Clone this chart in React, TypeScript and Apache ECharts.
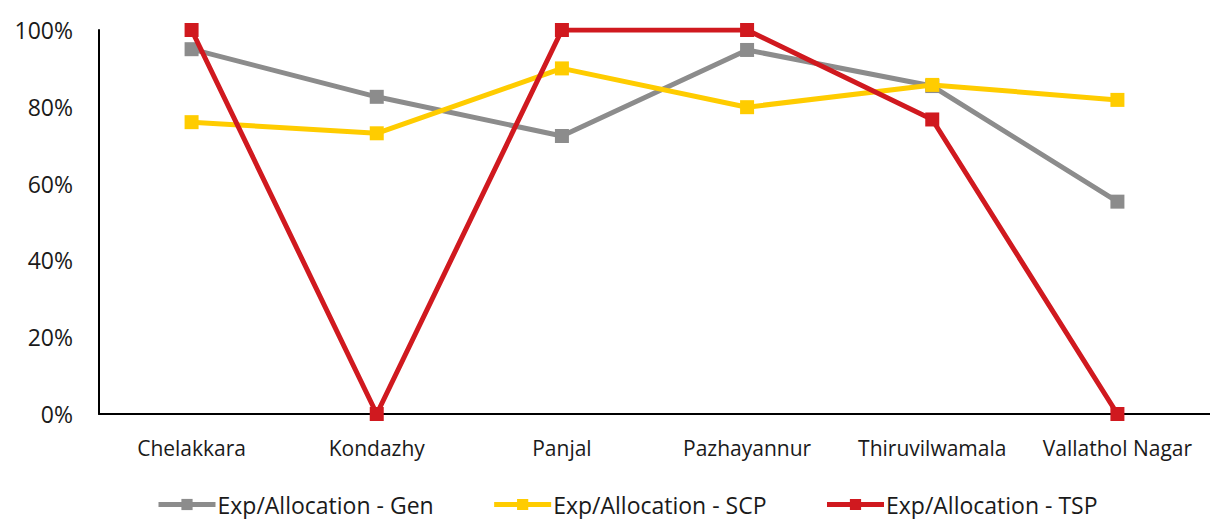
import React, { useEffect, useRef } from "react";
import * as echarts from "echarts";

const categories = ["Chelakkara", "Kondazhy", "Panjal", "Pazhayannur", "Thiruvilwamala", "Vallathol Nagar"];
const genValues = [95, 82.6, 72.4, 94.8, 85.4, 55.3];
const scpValues = [76, 73.1, 90, 79.9, 85.7, 81.8];
const tspValues = [100, 0, 100, 100, 76.7, 0];
const seriesNames = ["Exp/Allocation - Gen", "Exp/Allocation - SCP", "Exp/Allocation - TSP"];
const colors = ["#8c8c8c", "#ffcc00", "#d0191f"];

export default function App() {
  const ref = useRef<HTMLDivElement>(null);
  useEffect(() => {
    if (!ref.current) return;
    const chart = echarts.init(ref.current, null, { renderer: "svg" });
    const data = [genValues, scpValues, tspValues];
    chart.setOption({
      animation: false,
      grid: { left: 99, top: 30, width: 1113, height: 384 },
      legend: {
        bottom: -2,
        left: 151,
        itemWidth: 57,
        itemHeight: 14,
        itemGap: 58,
        lineStyle: { width: 5 },
        textStyle: { fontFamily: "Open Sans, sans-serif", fontSize: 23, color: "#1a1a1a", padding: [0, 0, 0, -3] },
        data: seriesNames,
      },
      xAxis: {
        type: "category",
        data: categories,
        boundaryGap: true,
        axisLine: { lineStyle: { color: "#000", width: 2 } },
        axisTick: { show: false },
        axisLabel: { interval: 0, fontFamily: "Open Sans, sans-serif", fontSize: 21, color: "#1a1a1a", margin: 23 },
      },
      yAxis: {
        type: "value",
        min: 0,
        max: 100,
        interval: 20,
        splitLine: { show: false },
        axisLine: { show: true, lineStyle: { color: "#000", width: 2 } },
        axisTick: { show: false },
        axisLabel: { formatter: "{value}%", fontFamily: "Open Sans, sans-serif", fontSize: 23, color: "#1a1a1a", margin: 26 },
      },
      series: seriesNames.map((name, i) => ({
        name,
        type: "line",
        data: data[i],
        symbol: "rect",
        symbolSize: 14,
        color: colors[i],
        lineStyle: { width: 5, color: colors[i] },
        itemStyle: { color: colors[i] },
        z: 2 + i,
      })),
    });
    return () => chart.dispose();
  }, []);
  return <div ref={ref} style={{ position: "fixed", left: 0, top: 0, width: 1210, height: 519, background: "#fff" }} />;
}
